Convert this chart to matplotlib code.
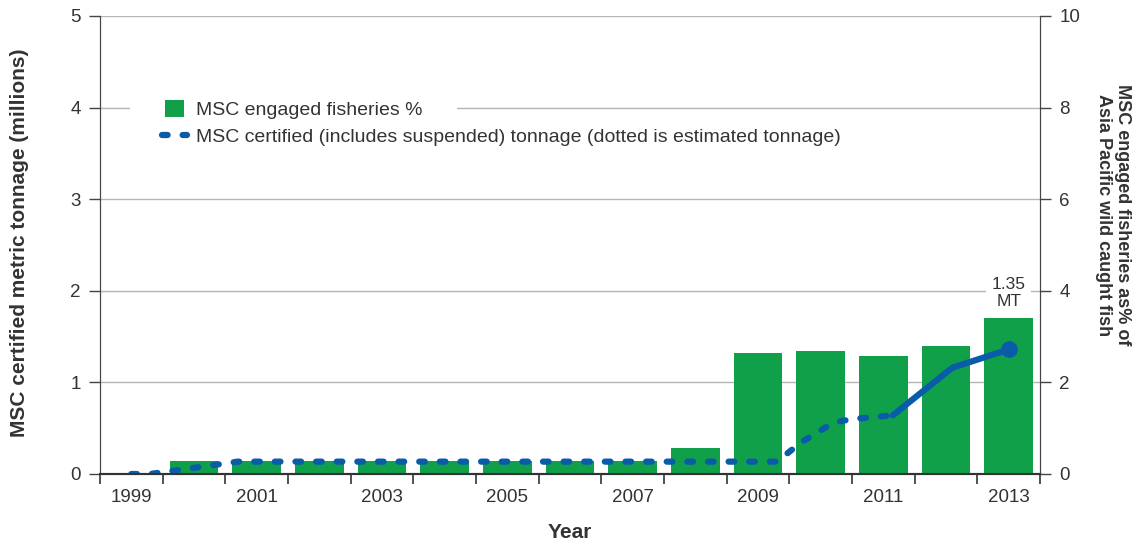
import numpy as np
import matplotlib
matplotlib.use("Agg")
import matplotlib.pyplot as plt
from matplotlib.patches import Patch
from matplotlib.lines import Line2D

plt.rcParams['font.family'] = ['Liberation Sans', 'DejaVu Sans']

# data
years = [2000, 2001, 2002, 2003, 2004, 2005, 2006, 2007, 2008, 2009, 2010, 2011, 2012, 2013]
engaged_pct = [0.28, 0.28, 0.28, 0.28, 0.28, 0.28, 0.28, 0.28, 0.56, 2.64, 2.69, 2.58, 2.79, 3.40]

# tonnage line (millions), dotted = estimated part
est_x = [1999, 1999.3, 2000.7, 2009.3, 2009.7, 2010.2, 2010.5, 2011.15]
est_y = [0.0, 0.0, 0.135, 0.135, 0.35, 0.56, 0.60, 0.64]
cert_x = [2011.15, 2012.1, 2013]
cert_y = [0.64, 1.16, 1.36]

year_labels = [1999, 2001, 2003, 2005, 2007, 2009, 2011, 2013]

green = "#10a04a"
blue = "#0a5ca8"
txt = "#333333"

fig = plt.figure(figsize=(11.4, 5.52), dpi=100)
ax = fig.add_axes([100/1140, 1-474/552, 940/1140, 458/552])
ax2 = ax.twinx()
ax.set_zorder(ax2.get_zorder()+1)
ax.patch.set_visible(False)

# bars on right axis (%)
ax2.bar(years, engaged_pct, width=0.78, color=green, zorder=2)
ax2.set_ylim(0, 10)
ax2.set_yticks([0, 2, 4, 6, 8, 10])
ax2.grid(axis="y", color="#b5b5b5", lw=1.0)
ax2.set_axisbelow(True)

# tonnage line on left axis
dots = (0.9, 2.4)
ax.plot(est_x, est_y, color=blue, lw=4.5, dashes=dots, dash_capstyle="round", solid_capstyle="round")
ax.plot(cert_x, cert_y, color=blue, lw=4.5, solid_capstyle="round", solid_joinstyle="round")
ax.plot([cert_x[-1]], [cert_y[-1]], "o", color=blue, ms=11)
ax.set_ylim(0, 5)
ax.set_yticks([0, 1, 2, 3, 4, 5])

ax.set_xlim(1998.5, 2013.5)
ax.set_xticks(np.arange(1998.5, 2014, 1.0))
ax.set_xticklabels([])
ax.set_xticks(year_labels, minor=True)
ax.set_xticklabels([str(y) for y in year_labels], minor=True)
ax.tick_params(axis="x", which="major", length=7, width=1.2, color="#333333", direction="out")
ax.tick_params(axis="x", which="minor", length=0, pad=11, labelsize=13.5, labelcolor=txt)

ax.tick_params(axis="y", length=8, width=1, color="#444444", labelsize=13.5, labelcolor=txt, pad=6)
ax2.tick_params(axis="y", length=8, width=1, color="#444444", labelsize=13.5, labelcolor=txt, pad=6)

for a in (ax, ax2):
    a.spines["top"].set_visible(False)
    a.spines["left"].set_color("#444444")
    a.spines["right"].set_color("#444444")
    a.spines["bottom"].set_color("#333333")
    a.spines["bottom"].set_linewidth(1.5)

ax.set_xlabel("Year", fontsize=15, fontweight="bold", color=txt, labelpad=12)
fig.text(20/1140, 1-243/552, "MSC certified metric tonnage (millions)", fontsize=15, fontweight="bold",
         color=txt, rotation=90, ha="center", va="center")
fig.text(1113/1140, 1-215/552, "MSC engaged fisheries as% of\nAsia Pacific wild caught fish", fontsize=13,
         fontweight="bold", color=txt, rotation=270, ha="center", va="center", multialignment="center",
         linespacing=1.1)

ax.text(2013, 1.80, "1.35\nMT", ha="center", va="bottom", fontsize=12.5, color=txt, linespacing=1.15,
        bbox=dict(facecolor="white", edgecolor="none", pad=4))

# legends
leg1 = ax.legend(handles=[Patch(facecolor=green, edgecolor="none")], labels=["MSC engaged fisheries %"],
                 loc="center left", bbox_to_anchor=(0.022, 0.795), frameon=True, fontsize=14,
                 handlelength=0.95, handleheight=0.95, handletextpad=0.6, borderpad=1.8, labelcolor=txt)
leg1.get_frame().set_facecolor("white")
leg1.get_frame().set_edgecolor("none")
leg1.get_frame().set_alpha(1)
ax.add_artist(leg1)
ax.legend(handles=[Line2D([0], [0], color=blue, lw=4.5, dashes=dots, dash_capstyle="round")],
          labels=["MSC certified (includes suspended) tonnage (dotted is estimated tonnage)"],
          loc="center left", bbox_to_anchor=(0.0493, 0.735), frameon=False, fontsize=14,
          handlelength=1.3, handletextpad=0.45, borderpad=0.3, labelcolor=txt)

fig.savefig("out.png", dpi=100)
